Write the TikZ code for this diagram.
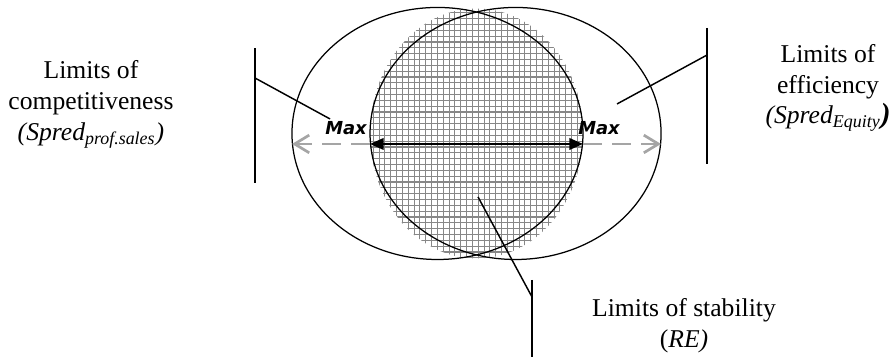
\documentclass[tikz,border=0pt]{standalone}
\usepackage{fontspec}
\setmainfont{Liberation Serif}
\newfontfamily\maxfont{DejaVu Sans}
\usepackage{xcolor}
\definecolor{hatch}{RGB}{135,135,135}
\definecolor{dashgray}{RGB}{165,165,165}
\usepackage{tikz}
\usetikzlibrary{arrows.meta}

\begin{document}
\begin{tikzpicture}[font=\fontsize{12.3}{14.8}\selectfont,
  lead/.style={line width=0.7pt},
  bar/.style={line width=0.9pt},
  maxlbl/.style={font=\maxfont\bfseries\itshape\fontsize{8.6}{9}\selectfont,inner sep=0pt,anchor=base}]
  \useasboundingbox (0,0) rectangle (15.083,6.023);
  % hatched zone
  \begin{scope}
    \clip (8.040,3.771) ellipse (1.797 and 2.109);
    \fill[white] (6.2,1.6) rectangle (9.9,5.9);
    \draw[hatch,line width=0.5pt,step=2.8pt] (6.2,1.6) grid (9.9,5.9);
  \end{scope}
  \draw[line width=0.6pt] (7.381,3.771) ellipse (2.455 and 2.126);
  \draw[line width=0.6pt] (8.698,3.771) ellipse (2.455 and 2.126);
  % arrows
  \coordinate (hl) at (6.243,3.594);
  \coordinate (hr) at (9.836,3.594);
  \coordinate (ol) at (4.927,3.594);
  \coordinate (or) at (11.152,3.594);
  \draw[dashgray,line width=1.3pt,dash pattern=on 9pt off 5pt,-{Straight Barb[length=7pt,width=8.5pt]}] (hl) -- (ol);
  \draw[dashgray,line width=1.3pt,dash pattern=on 9pt off 5pt,-{Straight Barb[length=7pt,width=8.5pt]}] (hr) -- (or);
  \draw[line width=1pt,{Triangle[length=6.5pt,width=5.5pt]}-{Triangle[length=6.5pt,width=5.5pt]}] (hl) -- (hr);
  \node[maxlbl] (maxl) at (5.838,3.762) {Max};
  \node[maxlbl] (maxr) at (10.106,3.762) {Max};
  % labels
  \node[align=center] (comp) at (1.535,4.260) {Limits of\\competitiveness\\\textit{(Spred\textsubscript{prof.sales})}};
  \node[align=center] (effi) at (13.970,4.540) {Limits of\\efficiency\\\textit{(Spred\textsubscript{Equity}}{\fontsize{14}{14}\selectfont\bfseries\itshape)}};
  \node[align=center] (stab) at (11.540,0.530) {Limits of stability\\(\textit{RE)}};
  % leader lines
  \coordinate (lt) at (4.302,5.213);
  \coordinate (lb) at (4.302,2.936);
  \coordinate (lk) at (4.302,4.707);
  \coordinate (la) at (5.568,4.016);
  \draw[bar] (lt) -- (lb);
  \draw[lead] (lk) -- (la);
  \coordinate (rt) at (11.929,5.551);
  \coordinate (rb) at (11.929,3.256);
  \coordinate (rk) at (11.929,5.095);
  \coordinate (ra) at (10.410,4.269);
  \draw[bar] (rt) -- (rb);
  \draw[lead] (rk) -- (ra);
  \coordinate (bt) at (8.976,1.299);
  \coordinate (bb) at (8.976,0);
  \coordinate (bk) at (8.976,1.012);
  \coordinate (ba) at (8.065,2.700);
  \draw[bar] (bt) -- (bb);
  \draw[lead] (bk) -- (ba);
\end{tikzpicture}
\end{document}
